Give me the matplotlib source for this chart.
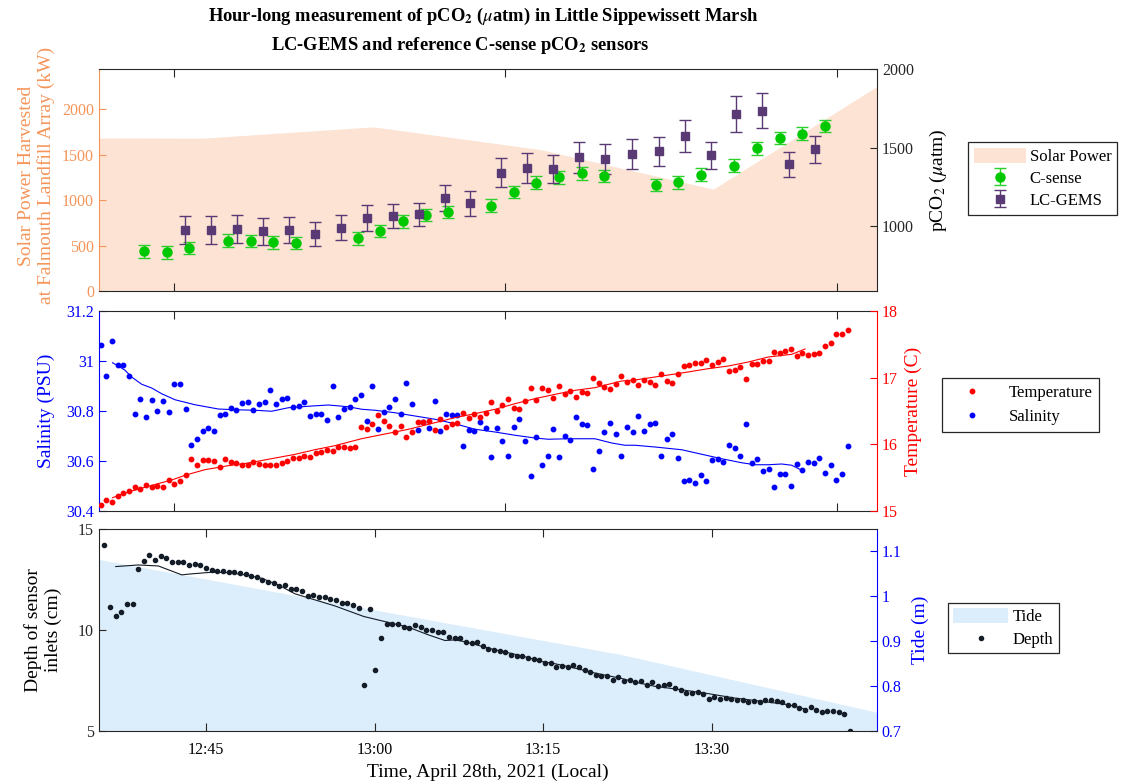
import numpy as np
import matplotlib
matplotlib.use('Agg')
import matplotlib.pyplot as plt
from matplotlib.lines import Line2D
from matplotlib.patches import Patch

plt.rcParams['font.family'] = ['Liberation Serif', 'DejaVu Serif']
plt.rcParams['mathtext.fontset'] = 'stix'

# ---------------- data ----------------
# top panel (time in minutes after 12:00)
solar_t = [30.0, 47.68, 63.05, 78.12, 93.79, 108.86]
solar_kw = [1683, 1680, 1804, 1555, 1119, 2269]

csense_t = [42.32, 44.37, 46.38, 49.94, 51.96, 54.00, 56.09, 61.65, 63.70, 65.76,
            67.80, 69.82, 73.71, 75.75, 77.80, 79.85, 81.89, 83.94, 88.58, 90.63,
            92.68, 95.66, 97.71, 99.78, 101.81, 103.89]
csense_pco2 = [842, 835, 863, 909, 907, 899, 894, 924, 972, 1032,
               1072, 1092, 1133, 1219, 1278, 1312, 1337, 1320, 1263, 1280,
               1329, 1386, 1496, 1561, 1590, 1639]
csense_err = [41, 41, 40, 40, 40, 40, 40, 40, 40, 40,
              40, 40, 40, 40, 40, 40, 40, 40, 40, 40,
              40, 40, 40, 40, 40, 40]

lcg_t = [46.02, 48.34, 50.69, 53.04, 55.39, 57.74, 60.09, 62.44, 64.79, 67.14,
         69.49, 71.83, 74.57, 76.92, 79.27, 81.62, 84.01, 86.47, 88.85, 91.20,
         93.55, 95.87, 98.22, 100.60, 102.98]
lcg_pco2 = [978, 978, 983, 968, 977, 951, 991, 1054, 1067, 1076,
            1181, 1146, 1342, 1373, 1365, 1439, 1428, 1462, 1477, 1576,
            1451, 1713, 1736, 1396, 1489]
lcg_err = [91, 89, 87, 84, 81, 76, 79, 81, 78, 76,
           82, 78, 93, 95, 91, 98, 95, 94, 94, 102,
           88, 114, 113, 79, 84]

# middle panel (samples every ~30 s)
mid_t0 = 38.40
mid_dt = 0.5117
temperature = [15.085, 15.16, 15.14, 15.23, 15.265, 15.30, 15.36, 15.33, 15.39, 15.36,
               15.37, 15.36, 15.46, 15.40, 15.455, 15.54, 15.785, 15.685, 15.77, 15.765,
               15.745, 15.66, 15.775, 15.74, 15.725, 15.695, 15.69, 15.73, 15.71, 15.69,
               15.695, 15.695, 15.72, 15.75, 15.79, 15.80, 15.83, 15.81, 15.875, 15.89,
               15.915, 15.90, 15.965, 15.955, 15.94, 15.965, 16.26,
               16.225, 16.30, 16.445, 16.345, 16.28, 16.185, 16.28, 16.115, 16.185, 16.33,
               16.33, 16.35, 16.215, 16.38, 16.265, 16.30, 16.325, 16.47, 16.395, 16.45,
               16.405, 16.47, 16.635, 16.50, 16.595, 16.685, 16.55, 16.535, 16.655, 16.85,
               16.665, 16.85, 16.82, 16.70, 16.87, 16.755, 16.795, 16.705, 16.79, 16.765,
               16.995, 16.92, 16.855, 16.835, 16.905, 17.03,
               16.93, 16.965, 16.89, 16.965, 16.94, 16.89, 17.055, 16.955, 16.925, 17.05,
               17.17, 17.19, 17.22, 17.215, 17.27, 17.19, 17.235, 17.285, 17.105, 17.12,
               17.155, 16.98, 17.20, 17.20, 17.245, 17.255, 17.39, 17.375, 17.40, 17.425,
               17.32, 17.365, 17.34, 17.36, 17.37, 17.475, 17.525, 17.65, 17.655, 17.71]
salinity = [31.063, 30.94, 31.081, 30.983, 30.985, 30.941, 30.789, 30.848, 30.776, 30.843,
            30.80, 30.84, 30.796, 30.908, 30.908, 30.808, 30.663, 30.687, 30.721, 30.731,
            30.72, 30.784, 30.788, 30.812, 30.805, 30.831, 30.836, 30.805, 30.828, 30.836,
            30.885, 30.827, 30.848, 30.851, 30.816, 30.82, 30.835, 30.781, 30.787, 30.789,
            30.765, 30.899, 30.775, 30.809, 30.816, 30.849, 30.864,
            30.759, 30.90, 30.727, 30.797, 30.817, 30.848, 30.788, 30.912, 30.827, 30.724,
            30.756, 30.731, 30.839, 30.719, 30.787, 30.785, 30.785, 30.661, 30.725, 30.719,
            30.756, 30.731, 30.617, 30.731, 30.679, 30.62, 30.735, 30.769, 30.679, 30.539,
            30.695, 30.584, 30.619, 30.728, 30.615, 30.70, 30.683, 30.775, 30.747, 30.743,
            30.568, 30.64, 30.716, 30.751, 30.707, 30.62,
            30.735, 30.716, 30.781, 30.721, 30.747, 30.751, 30.62, 30.689, 30.709, 30.612,
            30.52, 30.525, 30.511, 30.543, 30.521, 30.603, 30.609, 30.596, 30.663, 30.651,
            30.619, 30.749, 30.592, 30.608, 30.559, 30.567, 30.496, 30.549, 30.549, 30.501,
            30.588, 30.564, 30.595, 30.593, 30.613, 30.552, 30.583, 30.523, 30.547, 30.659]

tfit_t = [39.48, 40.90, 42.70, 44.82, 46.11, 47.83, 49.94, 51.75, 53.86, 55.97,
          57.78, 59.58, 62.0, 63.81, 66.21, 68.63, 70.43, 72.24, 74.05, 75.86,
          77.67, 79.48, 81.28, 83.09, 85.51, 86.71, 89.12, 90.93, 93.34, 95.15,
          96.95, 98.76, 100.88, 102.08]
tfit_v = [15.20, 15.285, 15.37, 15.465, 15.54, 15.62, 15.68, 15.72, 15.785, 15.85,
          15.92, 15.98, 16.085, 16.145, 16.225, 16.325, 16.40, 16.46, 16.525, 16.61,
          16.685, 16.75, 16.81, 16.85, 16.95, 16.965, 17.025, 17.07, 17.135, 17.175,
          17.235, 17.31, 17.35, 17.43]
sfit_t = [39.48, 39.99, 40.60, 41.20, 42.11, 43.01, 43.92, 45.12, 46.93, 49.03,
          50.54, 52.35, 53.86, 55.36, 57.17, 58.98, 60.79, 62.0, 63.20, 65.01,
          66.82, 68.63, 70.43, 72.24, 74.05, 75.86, 77.67, 78.87, 80.68, 83.09,
          84.60, 85.81, 86.71, 88.52, 90.93, 92.74, 94.55, 96.36, 97.56, 98.76,
          99.97, 100.88, 101.78]
sfit_v = [30.993, 30.98, 30.963, 30.936, 30.907, 30.892, 30.869, 30.845, 30.825, 30.808,
          30.805, 30.803, 30.799, 30.813, 30.819, 30.824, 30.817, 30.807, 30.803, 30.793,
          30.78, 30.767, 30.749, 30.727, 30.716, 30.703, 30.692, 30.687, 30.689, 30.689,
          30.672, 30.663, 30.663, 30.656, 30.645, 30.627, 30.609, 30.593, 30.585, 30.585,
          30.588, 30.583, 30.563]

# bottom panel
bot_t0 = 35.95
bot_dt = 0.5027
depth = [14.19, 11.16, 10.70, 10.91, 11.28, 11.28, 13.04, 13.43, 13.70, 13.47,
         13.65, 13.57, 13.39, 13.39, 13.39, 13.24, 13.29, 13.22, 13.09, 12.99,
         12.94, 12.92, 12.86, 12.86, 12.81, 12.79, 12.69, 12.61, 12.48, 12.38,
         12.33, 12.17, 12.25, 12.03, 12.02, 11.92, 11.69, 11.75, 11.62, 11.61,
         11.54, 11.47, 11.34, 11.33, 11.24, 11.11,
         7.29, 11.06, 8.01, 9.60, 10.32, 10.32, 10.32, 10.17, 10.11, 10.24,
         10.14, 10.01, 9.98, 9.88, 9.88, 9.65, 9.61, 9.60, 9.42, 9.35,
         9.42, 9.23, 9.04, 9.02, 8.97, 8.90, 8.77, 8.71, 8.72, 8.62,
         8.57, 8.53, 8.39, 8.39, 8.16, 8.23, 8.15, 8.25, 8.18, 8.00,
         7.92, 7.78, 7.70, 7.70, 7.52, 7.69, 7.50,
         7.52, 7.41, 7.47, 7.29, 7.45, 7.22, 7.27, 7.31, 7.14, 7.01,
         6.88, 6.86, 6.94, 6.83, 6.60, 6.70, 6.60, 6.63, 6.60, 6.55,
         6.55, 6.43, 6.47, 6.43, 6.53, 6.52, 6.48, 6.42, 6.30, 6.27,
         6.12, 6.05, 6.19, 6.02, 5.94, 5.99, 5.97, 5.94, 5.82, 5.00]
dfit_t = [36.97, 38.98, 40.76, 42.84, 43.73, 45.51, 46.98, 48.47, 49.96, 51.43,
          52.92, 54.70, 56.48, 59.03, 61.04, 63.00, 64.78, 66.26, 67.15, 68.04,
          70.12, 73.09, 74.87, 76.05, 77.83, 79.61, 81.98, 83.17, 84.95, 87.32,
          89.69, 92.06, 94.44, 96.81, 98.29]
dfit_d = [13.14, 13.22, 13.17, 12.73, 12.78, 12.86, 12.84, 12.73, 12.56, 12.23,
          11.79, 11.49, 11.19, 10.67, 10.40, 10.14, 9.76, 9.48, 9.51, 9.42,
          9.10, 8.72, 8.44, 8.33, 8.11, 7.87, 7.60, 7.42, 7.21, 7.04,
          6.85, 6.63, 6.47, 6.30, 6.09]
tide_t = [35.3, 59.03, 82.01, 105.0]
tide_m = [1.083, 0.974, 0.870, 0.740]

top_ticks = [45, 75, 105]
bot_ticks = [45, 60, 75, 90]
bot_ticklabels = ['12:45', '13:00', '13:15', '13:30']

# ---------------- style ----------------
orange = '#F5955A'
peach = '#FCE3D4'
green = '#00C800'
green_e = '#2BCF2B'
purple = '#5A3A74'
dark = '#262626'
blue = '#0000FF'
red = '#FF0000'
tidec = '#DCEEFB'
dotc = '#141C28'
TS = 11.5
LS = 14

W, H = 1125, 784
def rect(l, t, r, b):
    return [l / W, 1 - b / H, (r - l) / W, (b - t) / H]

fig = plt.figure(figsize=(11.25, 7.84), dpi=100)

def style_pair(ax, axr, lcol, rcol, xticks):
    ax.spines['right'].set_visible(False)
    ax.spines['left'].set_color(lcol)
    for s in ['top', 'bottom']:
        ax.spines[s].set_color(dark)
    for s in ['left', 'top', 'bottom']:
        axr.spines[s].set_visible(False)
    axr.spines['right'].set_color(rcol)
    ax.tick_params(axis='y', direction='in', colors=lcol, labelsize=TS, length=5)
    axr.tick_params(axis='y', direction='in', colors=rcol, labelsize=TS, length=5)
    ax.set_xticks(xticks)
    ax.tick_params(axis='x', direction='in', top=True, bottom=True, length=6,
                   color=dark, labelsize=TS)

# ---- top panel ----
ax1 = fig.add_axes(rect(99, 69, 877, 291))
ax1.fill_between(solar_t, solar_kw, 0, color=peach, lw=0)
ax1.set_xlim(38.25, 108.59)
ax1.set_ylim(0, 2440)
ax1.set_yticks([0, 500, 1000, 1500, 2000])
ax1r = ax1.twinx()
ax1r.errorbar(csense_t, csense_pco2, yerr=csense_err, fmt='o', ms=6.5, color=green,
              mec=green, ecolor=green_e, elinewidth=1, capsize=4, capthick=1)
ax1r.errorbar(lcg_t, lcg_pco2, yerr=lcg_err, fmt='s', ms=6, color=purple,
              mec=purple, ecolor=purple, elinewidth=1, capsize=4, capthick=1)
ax1r.set_ylim(590, 2000)
ax1r.set_yticks([1000, 1500, 2000])
style_pair(ax1, ax1r, orange, dark, top_ticks)
ax1.tick_params(axis='x', labelbottom=False)
ax1.set_ylabel('Solar Power Harvested\nat Falmouth Landfill Array (kW)', color=orange,
               fontsize=LS)
ax1.yaxis.set_label_coords(-0.056, 0.52)
ax1r.set_ylabel(r'pCO$_2$ ($\mu$atm)', color='black', fontsize=LS)
ax1r.yaxis.set_label_coords(1.066, 0.5)

# ---- middle panel ----
ax2 = fig.add_axes(rect(99, 311, 877, 511))
mid_t = mid_t0 + mid_dt * np.arange(len(salinity))
ax2.plot(mid_t, salinity, 'o', ms=3.2, color=blue, mec=blue)
ax2.plot(sfit_t, sfit_v, '-', lw=0.8, color=blue)
ax2.set_xlim(38.25, 108.59)
ax2.set_ylim(30.4, 31.2)
ax2.set_yticks([30.4, 30.6, 30.8, 31.0, 31.2])
ax2.set_yticklabels(['30.4', '30.6', '30.8', '31', '31.2'])
ax2r = ax2.twinx()
ax2r.plot(mid_t, temperature, 'o', ms=3.2, color=red, mec=red)
ax2r.plot(tfit_t, tfit_v, '-', lw=0.8, color=red)
ax2r.set_ylim(15, 18)
ax2r.set_yticks([15, 16, 17, 18])
style_pair(ax2, ax2r, blue, red, top_ticks)
ax2.tick_params(axis='x', labelbottom=False)
ax2.set_ylabel('Salinity (PSU)', color=blue, fontsize=LS)
ax2.yaxis.set_label_coords(-0.056, 0.5)
ax2r.set_ylabel('Temperature (C)', color=red, fontsize=LS)
ax2r.yaxis.set_label_coords(1.036, 0.5)

# ---- bottom panel ----
ax3 = fig.add_axes(rect(99, 529, 877, 731))
ax3r = ax3.twinx()
ax3r.fill_between(tide_t, tide_m, 0.0, color=tidec, lw=0)
ax3r.set_ylim(0.7, 1.15)
ax3r.set_yticks([0.7, 0.8, 0.9, 1.0, 1.1])
ax3r.set_yticklabels(['0.7', '0.8', '0.9', '1', '1.1'])
ax3.set_zorder(ax3r.get_zorder() + 1)
ax3.patch.set_visible(False)
bot_t = bot_t0 + bot_dt * np.arange(len(depth))
ax3.plot(bot_t, depth, 'o', ms=3.0, color=dotc, mec=dotc)
ax3.plot(dfit_t, dfit_d, '-', lw=0.8, color=dotc)
ax3.set_xlim(35.48, 104.70)
ax3.set_ylim(5, 15)
ax3.set_yticks([5, 10, 15])
style_pair(ax3, ax3r, dark, blue, bot_ticks)
ax3.set_xticklabels(bot_ticklabels)
ax3.tick_params(axis='x', pad=8)
ax3.set_xlabel('Time, April 28th, 2021 (Local)', fontsize=LS)
ax3.set_ylabel('Depth of sensor\ninlets (cm)', color='black', fontsize=LS)
ax3.yaxis.set_label_coords(-0.048, 0.5)
ax3r.set_ylabel('Tide (m)', color=blue, fontsize=LS)
ax3r.yaxis.set_label_coords(1.044, 0.5)

# ---- titles ----
fig.text(483 / W, 1 - 16 / H,
         r'Hour-long measurement of pCO$_{\mathbf{2}}$ ($\mu$atm) in Little Sippewissett Marsh',
         ha='center', va='center', fontsize=13.3, fontweight='bold')
fig.text(460 / W, 1 - 46 / H,
         r'LC-GEMS and reference C-sense pCO$_{\mathbf{2}}$ sensors',
         ha='center', va='center', fontsize=13.3, fontweight='bold')

# ---- legends ----
leg_kw = dict(frameon=True, fancybox=False, framealpha=1, edgecolor=dark,
              fontsize=12, borderaxespad=0)
h1 = [Patch(facecolor=peach, edgecolor='none'),
      ax1r.containers[0], ax1r.containers[1]]
l1 = fig.legend(h1, ['Solar Power', 'C-sense', 'LC-GEMS'], loc='upper left',
                bbox_to_anchor=(968 / W, 1 - 142 / H), handlelength=3.1,
                handleheight=1.0, handletextpad=0.25, borderpad=0.35,
                labelspacing=0.3, **leg_kw)
l1.get_frame().set_linewidth(0.9)

h2 = [Line2D([], [], ls='none', marker='o', ms=3.2, color=red),
      Line2D([], [], ls='none', marker='o', ms=3.2, color=blue)]
l2 = fig.legend(h2, ['Temperature', 'Salinity'], loc='upper left',
                bbox_to_anchor=(942 / W, 1 - 378 / H), handlelength=2.8, **leg_kw)
l2.get_frame().set_linewidth(0.9)

h3 = [Patch(facecolor=tidec, edgecolor='none'),
      Line2D([], [], ls='none', marker='o', ms=3.0, color=dotc)]
l3 = fig.legend(h3, ['Tide', 'Depth'], loc='upper left',
                bbox_to_anchor=(948 / W, 1 - 603 / H), handlelength=3.3,
                handleheight=1.0, handletextpad=0.3, borderpad=0.3,
                labelspacing=0.35, **leg_kw)
l3.get_frame().set_linewidth(0.9)

fig.savefig('out.png', dpi=100)
